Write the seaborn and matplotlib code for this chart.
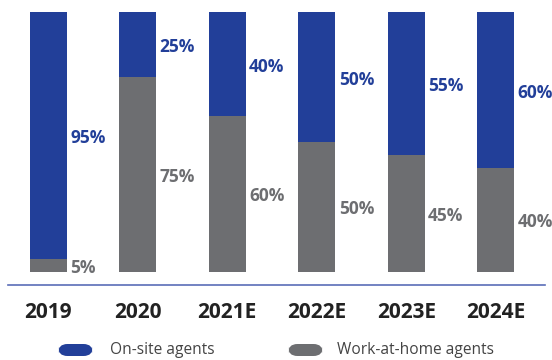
import matplotlib
matplotlib.use("Agg")
import matplotlib.pyplot as plt
from matplotlib.patches import FancyBboxPatch
import seaborn as sns
import pandas as pd

years = ["2019", "2020", "2021E", "2022E", "2023E", "2024E"]
onsite = [95, 25, 40, 50, 55, 60]
home = [5, 75, 60, 50, 45, 40]

BLUE = "#223F99"
GRAY = "#6D6E71"

sns.set_theme(style="white")
plt.rcParams["font.family"] = ["Open Sans", "DejaVu Sans"]

fig = plt.figure(figsize=(5.52, 3.6), dpi=100)
W, H = 552, 360
ax = fig.add_axes([8 / W, 1 - 285 / H, 537 / W, (285 - 12) / H])

df = pd.DataFrame({"year": years, "onsite": onsite, "home": home})
df["total"] = df["onsite"] + df["home"]

sns.barplot(data=df, x="year", y="total", color=BLUE, saturation=1, width=0.41, ax=ax,
            order=years, linewidth=0, edgecolor="none")
sns.barplot(data=df, x="year", y="home", color=GRAY, saturation=1, width=0.41, ax=ax,
            order=years, linewidth=0, edgecolor="none")

ax.set_xlim(-0.45, 5.55)
ax.set_ylim(-5, 100)
ax.set_xlabel("")
ax.set_ylabel("")
ax.set_yticks([])
for s in ["top", "right", "left"]:
    ax.spines[s].set_visible(False)
ax.spines["bottom"].set_color("#5A6DB8")
ax.spines["bottom"].set_linewidth(1.2)
ax.tick_params(axis="x", length=0, pad=12)
for lbl in ax.get_xticklabels():
    lbl.set_fontsize(15)
    lbl.set_fontweight("bold")
    lbl.set_color("#222222")

for i, (o, h) in enumerate(zip(onsite, home)):
    ax.annotate(f"{o}%", (i + 0.245, h + o / 2), xytext=(0, -2), textcoords="offset points",
                color=BLUE, fontsize=12.5, fontweight="bold", ha="left", va="center")
    ax.annotate(f"{h}%", (i + 0.245, h / 2), xytext=(0, -1.5), textcoords="offset points",
                color=GRAY, fontsize=12.5, fontweight="bold", ha="left", va="center")

# legend
def pill(x0, color):
    p = FancyBboxPatch((x0 / W, 1 - 356 / H), 35 / W, 12 / H,
                       boxstyle="round,pad=0,rounding_size=0.017",
                       transform=fig.transFigure, facecolor=color, edgecolor="none",
                       mutation_aspect=W / H)
    fig.patches.append(p)

pill(58, BLUE)
pill(288, GRAY)
fig.text(110 / W, 1 - 350 / H, "On-site agents", fontsize=11.2, color="#444444", va="center", ha="left")
fig.text(337 / W, 1 - 350 / H, "Work-at-home agents", fontsize=11.2, color="#444444", va="center", ha="left")

fig.savefig("out.png", dpi=100)
